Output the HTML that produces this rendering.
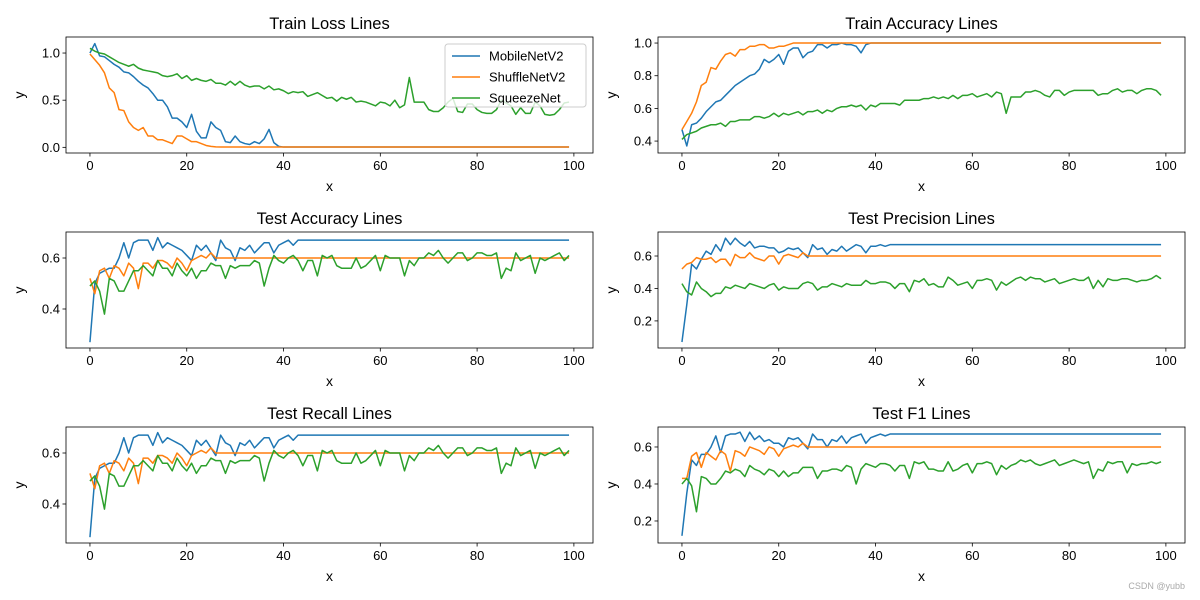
<!DOCTYPE html>
<html><head><meta charset="utf-8"><style>
html,body{margin:0;padding:0;background:#fff;}
svg{display:block;font-family:"Liberation Sans","DejaVu Sans",sans-serif;}
</style></head><body>
<svg id="fig" width="1200" height="600" viewBox="0 0 1200 600" xmlns="http://www.w3.org/2000/svg">
<rect width="1200" height="600" fill="#fff"/>
<text x="1185" y="589" font-size="9" fill="#aaa" text-anchor="end">CSDN @yubb</text>
</svg>
<script>
const seriesNames = ["MobileNetV2","ShuffleNetV2","SqueezeNet"];
const xTicks = [0,20,40,60,80,100];
const flat67 = [0.67,0.67,0.67,0.67,0.67,0.67,0.67,0.67,0.67,0.67];
const flat60 = [0.60,0.60,0.60,0.60,0.60,0.60,0.60,0.60,0.60,0.60];
const flat1 = [1,1,1,1,1,1,1,1,1,1];
const flat0 = [0.003,0.003,0.003,0.003,0.003,0.003,0.003,0.003,0.003,0.003];

const lossMobile = [1.0,1.1,0.97,0.96,0.92,0.88,0.85,0.80,0.79,0.75,
0.70,0.66,0.63,0.57,0.50,0.50,0.43,0.31,0.31,0.27,
0.21,0.35,0.17,0.10,0.10,0.27,0.21,0.18,0.06,0.05,
0.12,0.06,0.04,0.03,0.06,0.04,0.09,0.19,0.05,0.01].concat(flat0,flat0,flat0,flat0,flat0,flat0);
const lossShuffle = [0.99,0.93,0.87,0.79,0.63,0.58,0.40,0.39,0.27,0.21,
0.18,0.21,0.12,0.12,0.08,0.08,0.06,0.04,0.12,0.12,
0.09,0.06,0.06,0.04,0.02,0.01,0.005,0.003,0.003,0.003].concat(flat0,flat0,flat0,flat0,flat0,flat0,flat0);
const lossSqueeze = [1.05,1.02,1.00,0.99,0.96,0.93,0.90,0.88,0.86,0.88,
0.84,0.82,0.81,0.80,0.79,0.76,0.75,0.76,0.78,0.73,
0.76,0.71,0.73,0.71,0.70,0.72,0.68,0.68,0.66,0.70,
0.66,0.70,0.66,0.64,0.65,0.65,0.62,0.65,0.61,0.62,
0.60,0.57,0.59,0.58,0.59,0.54,0.56,0.58,0.55,0.52,
0.53,0.49,0.53,0.51,0.53,0.48,0.49,0.48,0.46,0.44,
0.48,0.47,0.44,0.50,0.42,0.45,0.74,0.48,0.48,0.48,
0.40,0.38,0.38,0.42,0.48,0.52,0.38,0.37,0.46,0.46,
0.40,0.37,0.36,0.36,0.40,0.50,0.47,0.44,0.35,0.42,
0.36,0.36,0.48,0.44,0.35,0.34,0.35,0.40,0.47,0.48];

const trainAccMobile = [0.47,0.37,0.50,0.51,0.54,0.58,0.61,0.64,0.65,0.68,
0.71,0.74,0.76,0.78,0.80,0.81,0.84,0.90,0.88,0.90,
0.93,0.87,0.95,0.97,0.97,0.91,0.94,0.95,0.99,0.99,
0.97,0.99,0.99,1.0,0.99,0.99,0.98,0.94,0.99,1.0].concat(flat1,flat1,flat1,flat1,flat1,flat1);
const trainAccShuffle = [0.47,0.52,0.57,0.64,0.74,0.76,0.85,0.84,0.89,0.93,
0.94,0.92,0.96,0.96,0.98,0.98,0.99,0.99,0.97,0.97,
0.98,0.98,0.99,1.0,1.0,1.0,1.0,1.0,1.0,1.0].concat(flat1,flat1,flat1,flat1,flat1,flat1,flat1);
const trainAccSqueeze = [0.41,0.44,0.45,0.46,0.48,0.49,0.50,0.50,0.51,0.49,
0.52,0.52,0.53,0.53,0.53,0.55,0.55,0.54,0.55,0.57,
0.55,0.57,0.56,0.57,0.58,0.56,0.58,0.58,0.59,0.57,
0.59,0.58,0.60,0.61,0.61,0.62,0.61,0.62,0.59,0.62,
0.61,0.63,0.63,0.63,0.63,0.62,0.65,0.65,0.65,0.65,
0.66,0.66,0.67,0.66,0.67,0.66,0.68,0.66,0.68,0.68,
0.69,0.67,0.68,0.69,0.67,0.70,0.69,0.57,0.67,0.67,
0.67,0.70,0.70,0.71,0.70,0.68,0.67,0.71,0.71,0.68,
0.70,0.71,0.71,0.71,0.71,0.71,0.68,0.69,0.69,0.71,
0.72,0.70,0.71,0.71,0.69,0.71,0.72,0.72,0.71,0.68];

const testAccMobile = [0.27,0.50,0.54,0.55,0.56,0.56,0.60,0.66,0.60,0.66,
0.67,0.67,0.67,0.63,0.68,0.64,0.66,0.65,0.64,0.63,
0.61,0.59,0.65,0.63,0.65,0.62,0.59,0.67,0.64,0.63,
0.59,0.64,0.63,0.65,0.62,0.64,0.66,0.66,0.62,0.65,
0.66,0.67,0.65,0.67,0.67,0.67,0.67,0.67,0.67,0.67].concat(flat67,flat67,flat67,flat67,flat67);
const testAccShuffle = [0.52,0.46,0.55,0.56,0.52,0.57,0.56,0.53,0.58,0.56,
0.48,0.58,0.58,0.56,0.59,0.59,0.58,0.56,0.60,0.58,
0.55,0.59,0.60,0.61,0.60,0.62,0.60,0.60,0.60,0.60].concat(flat60,flat60,flat60,flat60,flat60,flat60,flat60);
const testAccSqueeze = [0.49,0.51,0.47,0.38,0.52,0.51,0.47,0.47,0.51,0.55,
0.55,0.57,0.55,0.53,0.59,0.56,0.56,0.53,0.58,0.55,
0.53,0.56,0.52,0.55,0.55,0.58,0.57,0.57,0.52,0.57,
0.56,0.57,0.57,0.57,0.59,0.58,0.49,0.56,0.61,0.59,
0.58,0.60,0.61,0.59,0.55,0.59,0.59,0.53,0.61,0.60,
0.61,0.57,0.56,0.56,0.56,0.60,0.56,0.57,0.59,0.61,
0.55,0.61,0.60,0.60,0.60,0.53,0.59,0.57,0.60,0.60,
0.62,0.61,0.63,0.60,0.58,0.60,0.62,0.62,0.59,0.60,
0.62,0.62,0.61,0.61,0.62,0.52,0.56,0.55,0.62,0.59,
0.60,0.61,0.54,0.60,0.59,0.60,0.61,0.62,0.59,0.61];

const precMobile = [0.07,0.30,0.55,0.52,0.58,0.63,0.61,0.67,0.63,0.71,
0.67,0.71,0.68,0.66,0.69,0.65,0.66,0.66,0.65,0.65,
0.62,0.63,0.65,0.64,0.65,0.62,0.59,0.67,0.64,0.65,
0.61,0.64,0.63,0.66,0.63,0.65,0.67,0.66,0.62,0.66,
0.66,0.67,0.66,0.67,0.67,0.67,0.67,0.67,0.67,0.67].concat(flat67,flat67,flat67,flat67,flat67);
const precShuffle = [0.52,0.55,0.56,0.59,0.58,0.58,0.59,0.56,0.58,0.58,
0.54,0.61,0.59,0.59,0.62,0.59,0.58,0.57,0.60,0.60,
0.55,0.60,0.61,0.60,0.59,0.62,0.60,0.60,0.60,0.60].concat(flat60,flat60,flat60,flat60,flat60,flat60,flat60);
const precSqueeze = [0.43,0.38,0.36,0.44,0.40,0.38,0.35,0.37,0.37,0.41,
0.40,0.42,0.41,0.40,0.43,0.42,0.41,0.40,0.42,0.43,
0.39,0.41,0.40,0.40,0.40,0.43,0.44,0.43,0.39,0.41,
0.41,0.43,0.42,0.41,0.43,0.42,0.42,0.42,0.45,0.43,
0.43,0.44,0.44,0.43,0.40,0.43,0.43,0.38,0.45,0.44,
0.46,0.42,0.43,0.41,0.41,0.47,0.45,0.42,0.43,0.44,
0.40,0.45,0.45,0.46,0.45,0.39,0.44,0.42,0.44,0.46,
0.47,0.45,0.47,0.46,0.46,0.44,0.45,0.46,0.43,0.44,
0.45,0.46,0.45,0.45,0.47,0.40,0.45,0.41,0.46,0.45,
0.45,0.46,0.46,0.45,0.44,0.45,0.45,0.46,0.48,0.46];

const f1Mobile = [0.12,0.35,0.53,0.50,0.56,0.56,0.60,0.66,0.57,0.66,
0.67,0.67,0.68,0.63,0.68,0.64,0.66,0.63,0.64,0.62,
0.62,0.60,0.65,0.64,0.65,0.62,0.59,0.67,0.64,0.64,
0.60,0.64,0.63,0.66,0.62,0.65,0.66,0.67,0.62,0.65,
0.66,0.67,0.66,0.67,0.67,0.67,0.67,0.67,0.67,0.67].concat(flat67,flat67,flat67,flat67,flat67);
const f1Shuffle = [0.43,0.43,0.55,0.57,0.49,0.57,0.55,0.53,0.58,0.56,
0.47,0.58,0.57,0.55,0.60,0.59,0.58,0.56,0.60,0.59,
0.55,0.59,0.60,0.61,0.60,0.62,0.60,0.60,0.60,0.60].concat(flat60,flat60,flat60,flat60,flat60,flat60,flat60);
const f1Squeeze = [0.40,0.43,0.39,0.25,0.44,0.43,0.40,0.40,0.43,0.47,
0.46,0.48,0.47,0.44,0.50,0.48,0.47,0.45,0.48,0.47,
0.44,0.47,0.44,0.46,0.46,0.49,0.49,0.49,0.43,0.47,
0.47,0.48,0.48,0.47,0.50,0.49,0.40,0.48,0.51,0.50,
0.49,0.51,0.51,0.50,0.47,0.50,0.50,0.43,0.52,0.51,
0.52,0.48,0.48,0.47,0.47,0.52,0.47,0.48,0.50,0.51,
0.46,0.51,0.51,0.52,0.51,0.45,0.50,0.48,0.50,0.51,
0.53,0.52,0.53,0.51,0.50,0.51,0.52,0.53,0.50,0.51,
0.52,0.53,0.52,0.51,0.52,0.43,0.48,0.47,0.52,0.51,
0.52,0.52,0.46,0.51,0.50,0.51,0.51,0.52,0.51,0.52];

const colors = ["#1f77b4","#ff7f0e","#2ca02c"];
const NS = "http://www.w3.org/2000/svg";
const svg = document.getElementById("fig");

const panels = [
 {key:"train-loss", title:"Train Loss Lines", L:66,R:593,T:37,B:153, ylim:[-0.06,1.17], yt:[0.0,0.5,1.0], fmt:1, data:[lossMobile,lossShuffle,lossSqueeze], legend:true},
 {key:"train-accuracy", title:"Train Accuracy Lines", L:658,R:1185,T:37,B:153, ylim:[0.327,1.037], yt:[0.4,0.6,0.8,1.0], fmt:1, data:[trainAccMobile,trainAccShuffle,trainAccSqueeze]},
 {key:"test-accuracy", title:"Test Accuracy Lines", L:66,R:593,T:232,B:348, ylim:[0.247,0.702], yt:[0.4,0.6], fmt:1, data:[testAccMobile,testAccShuffle,testAccSqueeze]},
 {key:"test-precision", title:"Test Precision Lines", L:658,R:1185,T:232,B:348, ylim:[0.033,0.748], yt:[0.2,0.4,0.6], fmt:1, data:[precMobile,precShuffle,precSqueeze]},
 {key:"test-recall", title:"Test Recall Lines", L:66,R:593,T:427,B:543, ylim:[0.247,0.702], yt:[0.4,0.6], fmt:1, data:[testAccMobile,testAccShuffle,testAccSqueeze]},
 {key:"test-f1", title:"Test F1 Lines", L:658,R:1185,T:427,B:543, ylim:[0.081,0.708], yt:[0.2,0.4,0.6], fmt:1, data:[f1Mobile,f1Shuffle,f1Squeeze]}
];

function mk(tag, attrs, parent){
  const e = document.createElementNS(NS, tag);
  for (const k in attrs) e.setAttribute(k, attrs[k]);
  (parent||svg).appendChild(e);
  return e;
}

panels.forEach(p => {
  const g = mk("g", {});
  
  
  const xs = v => p.L + (v + 4.95) / 108.9 * (p.R - p.L);
  const ys = v => p.B - (v - p.ylim[0]) / (p.ylim[1] - p.ylim[0]) * (p.B - p.T);

  const t = mk("text", {x:(p.L+p.R)/2, y:p.T-8, "font-size":"16.5", "text-anchor":"middle", fill:"#000"}, g);
  t.textContent = p.title;
  
  

  p.data.forEach((arr, si) => {
    const d = arr.map((v,i) => (i?"L":"M") + xs(i).toFixed(2) + "," + ys(v).toFixed(2)).join("");
    const path = mk("path", {d:d, fill:"none", stroke:colors[si], "stroke-width":"1.5", "stroke-linejoin":"round"}, g);
    
    
  });

  const frame = mk("rect", {x:p.L, y:p.T, width:p.R-p.L, height:p.B-p.T, fill:"none", stroke:"#000", "stroke-width":"0.8"}, g);
  
  

  xTicks.forEach(v => {
    const x = xs(v);
    mk("line", {x1:x, x2:x, y1:p.B, y2:p.B+3.5, stroke:"#000", "stroke-width":"0.8"}, g);
    const tl = mk("text", {x:x, y:p.B+17, "font-size":"13", "text-anchor":"middle", fill:"#000"}, g);
    tl.textContent = v;
    
    
  });
  p.yt.forEach(v => {
    const y = ys(v);
    mk("line", {x1:p.L-3.5, x2:p.L, y1:y, y2:y, stroke:"#000", "stroke-width":"0.8"}, g);
    const tl = mk("text", {x:p.L-6, y:y+4.5, "font-size":"13", "text-anchor":"end", fill:"#000"}, g);
    tl.textContent = v.toFixed(p.fmt);
    
    
  });
  const xl = mk("text", {x:(p.L+p.R)/2, y:p.B+38, "font-size":"14", "text-anchor":"middle", fill:"#000"}, g);
  xl.textContent = "x";
  
  
  const cy = (p.T+p.B)/2, cx = p.L-42;
  const yl = mk("text", {x:cx, y:cy, "font-size":"14", "text-anchor":"middle", fill:"#000", transform:"rotate(-90 "+cx+" "+cy+")"}, g);
  yl.textContent = "y";
  
  

  if (p.legend) {
    const lg = mk("g", {}, g);
    
    
    mk("rect", {x:445, y:44, width:141, height:63, rx:3, fill:"#fff", "fill-opacity":"0.8", stroke:"#ccc", "stroke-width":"1"}, lg);
    seriesNames.forEach((n, i) => {
      const y = 56 + i*21;
      const ln = mk("line", {x1:452, x2:480, y1:y, y2:y, stroke:colors[i], "stroke-width":"1.5"}, lg);
      
      
      const tx = mk("text", {x:489, y:y+4.5, "font-size":"13", fill:"#000"}, lg);
      tx.textContent = n;
      
      
    });
  }
});
</script>
</body></html>
